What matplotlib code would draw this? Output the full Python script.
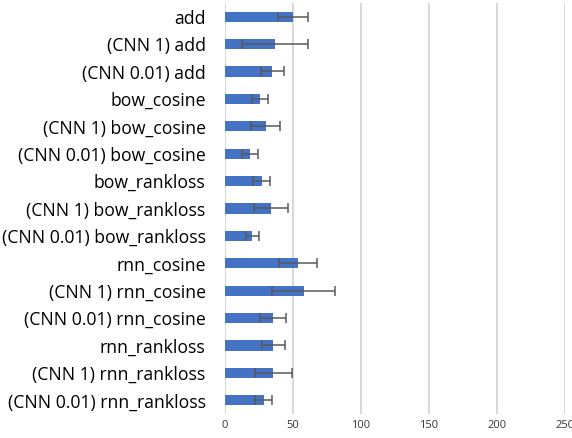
import numpy as np
import matplotlib
matplotlib.use("Agg")
from matplotlib import pyplot as plt

# categories top to bottom
labels = ["add", "(CNN 1) add", "(CNN 0.01) add",
          "bow_cosine", "(CNN 1) bow_cosine", "(CNN 0.01) bow_cosine",
          "bow_rankloss", "(CNN 1) bow_rankloss", "(CNN 0.01) bow_rankloss",
          "rnn_cosine", "(CNN 1) rnn_cosine", "(CNN 0.01) rnn_cosine",
          "rnn_rankloss", "(CNN 1) rnn_rankloss", "(CNN 0.01) rnn_rankloss"]
means = [50, 36.8, 34.8,
         25.7, 29.9, 18.1,
         27.0, 33.8, 19.9,
         53.4, 57.8, 35.5,
         35.5, 35.5, 28.5]
errs = [11, 24, 8.5,
        5.8, 10.5, 5.8,
        6.2, 12.5, 4.8,
        14, 23, 9.6,
        8.5, 13.7, 6.4]
xticks = [0, 50, 100, 150, 200, 250]

fig = plt.figure(figsize=(5.72, 4.38), dpi=100)
ax = fig.add_axes([225/572, 1-414/438, 340/572, 411/438])

y = np.arange(len(labels))
ax.barh(y, means, height=0.37, color="#4472C4", zorder=2)
ax.errorbar(means, y, xerr=errs, fmt="none", ecolor="#595959",
            elinewidth=1.1, capsize=3.5, capthick=1.1, zorder=3)

ax.set_ylim(len(labels)-0.5, -0.5)
ax.set_yticks(y)
ax.set_yticklabels(labels, fontsize=12.7, family="Open Sans", color="#000000")
ax.set_xlim(0, 250)
ax.set_xticks(xticks)
ax.set_xticklabels([str(t) for t in xticks], fontsize=8, family="Open Sans", color="#333333")
ax.tick_params(axis="both", length=0)
ax.tick_params(axis="y", pad=14)
ax.tick_params(axis="x", pad=4)
ax.xaxis.grid(True, color="#D9D9D9", linewidth=1.5, zorder=0)
ax.set_axisbelow(True)
for s in ax.spines.values():
    s.set_visible(False)

fig.savefig("out.png", dpi=100)
